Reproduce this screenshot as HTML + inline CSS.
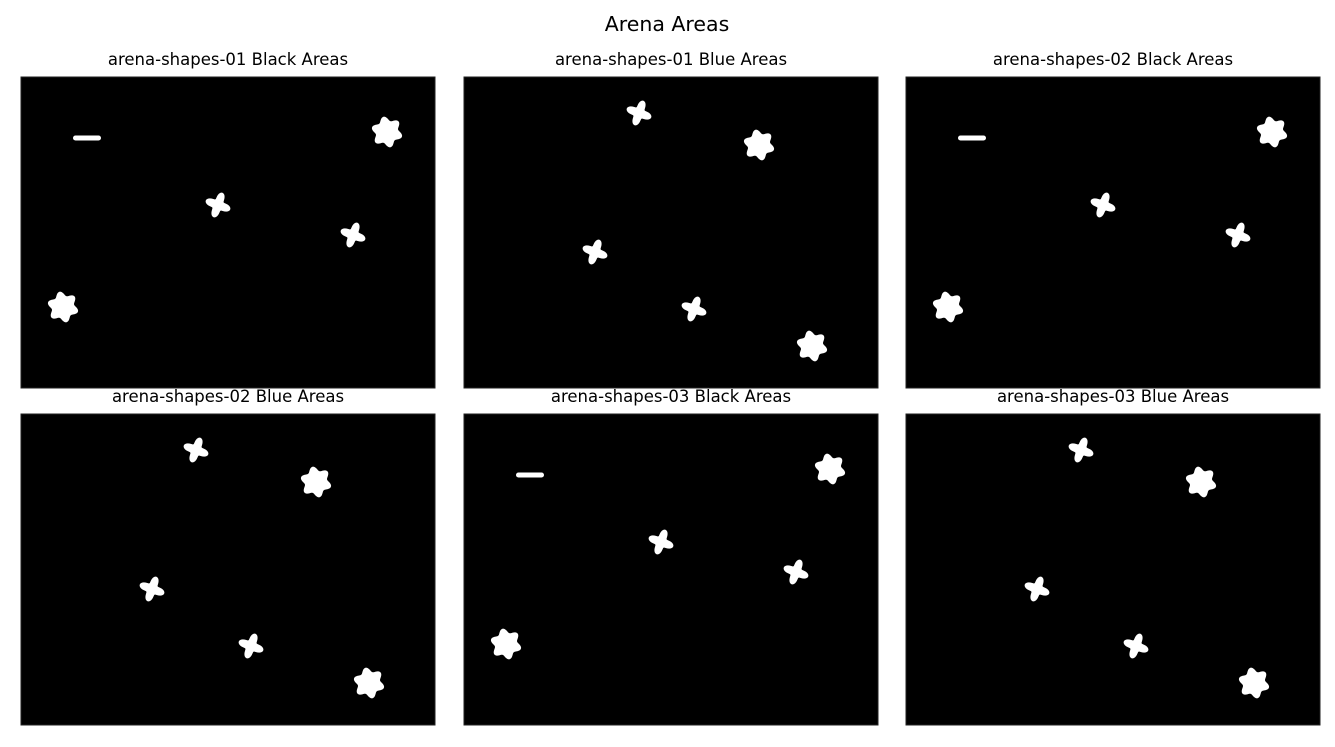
<!DOCTYPE html>
<html><head><meta charset="utf-8"><style>
body{margin:0;background:#fff;font-family:"DejaVu Sans",sans-serif}
svg{display:block}
</style></head><body>
<svg id="fig" width="1335" height="747">
<text x="667" y="31" text-anchor="middle" font-size="20.5" fill="#000" font-family="DejaVu Sans, sans-serif">Arena Areas</text>
</svg>
<script>
const titles=["arena-shapes-01 Black Areas","arena-shapes-01 Blue Areas","arena-shapes-02 Black Areas","arena-shapes-02 Blue Areas","arena-shapes-03 Black Areas","arena-shapes-03 Blue Areas"];
const panelX=[21,464,906,21,464,906];
const panelY=[77,77,77,414,414,414];
const blackTypes=["dash","flower","star","star","flower"];
const blackX=[66,366,197,332,42];
const blackY=[61,55,128,158,230];
const blueTypes=["star","flower","star","star","flower"];
const blueX=[175,295,131,230,348];
const blueY=[36,68,175,232,269];
const NS="http://www.w3.org/2000/svg";
const svg=document.getElementById('fig');
function polar(cx,cy,f,rot){let d="";for(let i=0;i<=180;i++){const t=i/180*2*Math.PI;const r=f(t);const x=cx+r*Math.cos(t+rot),y=cy+r*Math.sin(t+rot);d+=(i?"L":"M")+x.toFixed(2)+" "+y.toFixed(2);}return d+"Z";}
for(let p=0;p<6;p++){
  const g=document.createElementNS(NS,'g');
  
  
  const t=document.createElementNS(NS,'text');
  t.setAttribute('x',panelX[p]+207);t.setAttribute('y',panelY[p]-12);
  t.setAttribute('text-anchor','middle');t.setAttribute('font-size','16.5');
  t.setAttribute('font-family','DejaVu Sans, sans-serif');
  t.textContent=titles[p];
  
  
  g.appendChild(t);
  const r=document.createElementNS(NS,'rect');
  r.setAttribute('x',panelX[p]);r.setAttribute('y',panelY[p]);r.setAttribute('width',414);r.setAttribute('height',311);
  r.setAttribute('fill','#000');r.setAttribute('stroke','#222');
  
  
  g.appendChild(r);
  const blue=(p%2===1);
  const types=blue?blueTypes:blackTypes, xs=blue?blueX:blackX, ys=blue?blueY:blackY;
  for(let i=0;i<types.length;i++){
    const cx=panelX[p]+xs[i], cy=panelY[p]+ys[i];
    let el;
    if(types[i]==="dash"){
      el=document.createElementNS(NS,'rect');
      el.setAttribute('x',cx-14);el.setAttribute('y',cy-2.5);el.setAttribute('width',28);el.setAttribute('height',5);el.setAttribute('rx',2.5);
    }else if(types[i]==="flower"){
      el=document.createElementNS(NS,'path');
      el.setAttribute('d',polar(cx,cy,t=>13.5*(1+0.16*Math.cos(6*t)),0.3));
    }else{
      el=document.createElementNS(NS,'path');
      el.setAttribute('d',polar(cx,cy,t=>13*(0.48+0.52*Math.pow(Math.abs(Math.cos(2*t)),2)),0.35));
    }
    el.setAttribute('fill','#fff');
    
    
    g.appendChild(el);
  }
  svg.appendChild(g);
}
</script>
</body></html>
